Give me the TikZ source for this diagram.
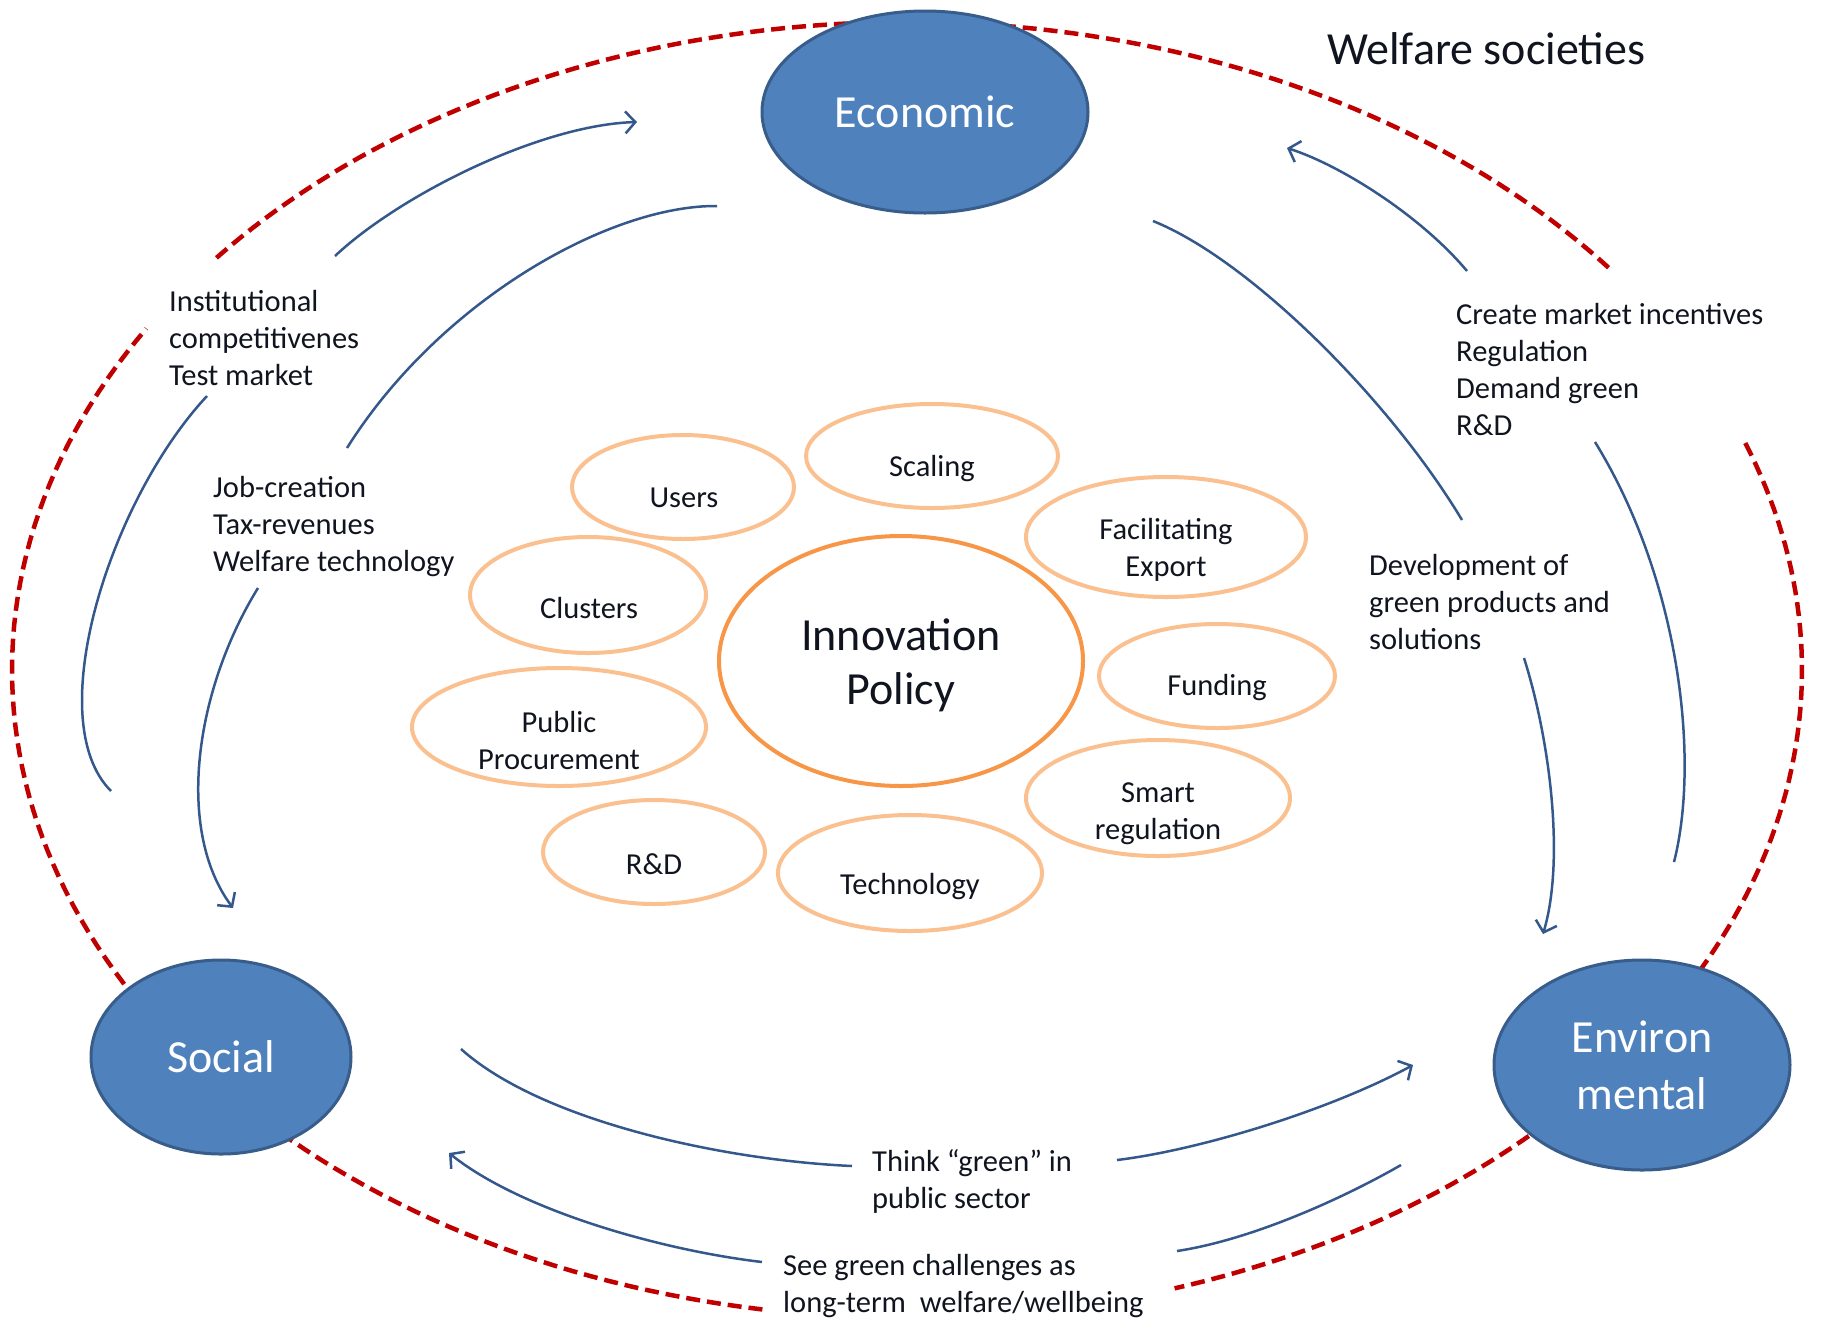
\documentclass[tikz,border=0pt]{standalone}
\usepackage{fontspec}
\setmainfont{Carlito}
\usetikzlibrary{shapes.geometric,arrows.meta}
\definecolor{bluefill}{HTML}{4F81BD}
\definecolor{blueedge}{HTML}{385D8A}
\definecolor{arrowcol}{HTML}{34578C}
\definecolor{redcol}{HTML}{C00000}
\definecolor{orangecol}{HTML}{F79646}
\definecolor{lightorange}{HTML}{FAC090}
\definecolor{textcol}{HTML}{10141F}
\begin{document}
\begin{tikzpicture}[x=1pt,y=-1pt,
 bigcirc/.style={ellipse, fill=bluefill, draw=blueedge, line width=3pt, inner sep=0pt, text=white, font=\fontsize{46}{57}\selectfont, align=center},
 smallell/.style={ellipse, draw=lightorange, line width=4pt, inner sep=0pt},
 celltext/.style={text=textcol, font=\fontsize{30.5}{37}\selectfont, align=center, inner sep=0pt},
 lbl/.style={text=textcol, font=\fontsize{30.5}{37}\selectfont, align=left, anchor=west, inner sep=0pt},
 conn/.style={draw=arrowcol, line width=2.5pt},
 arr/.style={conn, -{Straight Barb[length=10pt,width=22pt]}},
 reddash/.style={draw=redcol, line width=4.5pt, dash pattern=on 14pt off 7pt}]
\useasboundingbox (0,0) rectangle (1825,1326);

% red dashed outer boundary
\draw[reddash] plot[domain=-140.5:-38.1, samples=90, variable=\t] ({907+895*cos(\t)},{670+648*sin(\t)});
\draw[reddash] plot[domain=99.3:211.8, samples=90, variable=\t] ({907+895*cos(\t)},{670+648*sin(\t)});
\draw[reddash] plot[domain=-20.5:72.6, samples=90, variable=\t] ({907+895*cos(\t)},{670+648*sin(\t)});

% main circles
\node[bigcirc, minimum width=326pt, minimum height=202pt] (econ) at (925,112) {Economic};
\node[bigcirc, minimum width=260pt, minimum height=194pt] (social) at (221,1057) {Social};
\node[bigcirc, minimum width=296pt, minimum height=210pt] (env) at (1642,1065) {Environ\\mental};

% innovation policy
\node[ellipse, draw=orangecol, line width=4pt, minimum width=364pt, minimum height=250pt, inner sep=0pt] (innov) at (901,661) {};
\node[text=textcol, font=\fontsize{46}{54}\selectfont, align=center, inner sep=0pt] (innovt) at (901,665) {Innovation\\Policy};

% small ellipses
\node[smallell, minimum width=222pt, minimum height=104pt] (users) at (683,487) {};
\node[smallell, minimum width=252pt, minimum height=104pt] (scaling) at (932,456) {};
\node[smallell, minimum width=280pt, minimum height=120pt] (export) at (1166,537) {};
\node[smallell, minimum width=236pt, minimum height=116pt] (clusters) at (588,595) {};
\node[smallell, minimum width=236pt, minimum height=104pt] (funding) at (1217,676) {};
\node[smallell, minimum width=294pt, minimum height=118pt] (procure) at (559,727) {};
\node[smallell, minimum width=264pt, minimum height=116pt] (smart) at (1158,798) {};
\node[smallell, minimum width=222pt, minimum height=104pt] (rd) at (654,852) {};
\node[smallell, minimum width=264pt, minimum height=116pt] (tech) at (910,873) {};

\node[celltext] (userst) at (684,498) {Users};
\node[celltext] (scalingt) at (932,469) {Scaling};
\node[celltext] (exportt) at (1166,550) {Facilitating\\Export};
\node[celltext] (clusterst) at (589,608) {Clusters};
\node[celltext] (fundingt) at (1217,688) {Funding};
\node[celltext] (procuret) at (559,741) {Public\\Procurement};
\node[celltext] (smartt) at (1158,814) {Smart\\regulation};
\node[celltext] (rdt) at (654,864) {R\&D};
\node[celltext] (techt) at (910,887) {Technology};

% labels
\node[text=textcol, font=\fontsize{46}{54}\selectfont, anchor=west, inner sep=0pt] (title) at (1327,49) {Welfare societies};
\node[lbl] (lblA) at (169,338) {Institutional\\competitivenes\\Test market};
\node[lbl] (lblB) at (213,527) {Job-creation\\Tax-revenues\\Welfare technology};
\node[lbl] (lblC) at (1456,370) {Create market incentives\\Regulation\\Demand green\\R\&D};
\node[lbl] (lblD) at (1369,602) {Development of\\green products and\\solutions};
\node[lbl] (lblE) at (872,1181) {Think “green” in\\public sector};
\node[lbl] (lblF) at (783,1286) {See green challenges as\\long-term\ \ welfare/wellbeing};

% connector end points
\coordinate (a1s) at (335,256);  \coordinate (a1e) at (637,122);
\coordinate (a2s) at (207,396);  \coordinate (a2e) at (111,791);
\coordinate (b1s) at (717,206);  \coordinate (b1e) at (347,448);
\coordinate (b2s) at (258,588);  \coordinate (b2e) at (233,908);
\coordinate (c1s) at (1467,271); \coordinate (c1e) at (1287,148);
\coordinate (c2s) at (1674,862); \coordinate (c2e) at (1595,442);
\coordinate (d1s) at (1153,221); \coordinate (d1e) at (1462,520);
\coordinate (d2s) at (1524,658); \coordinate (d2e) at (1543,934);
\coordinate (e1s) at (461,1049); \coordinate (e1e) at (852,1166);
\coordinate (e2s) at (1117,1160); \coordinate (e2e) at (1413,1065);
\coordinate (f1s) at (1401,1165); \coordinate (f1e) at (1177,1251);
\coordinate (f2s) at (762,1262); \coordinate (f2e) at (449,1153);

% connectors
\draw[arr] (a1s) .. controls (400,195) and (540,125) .. (a1e);
\draw[conn] (a2s) .. controls (110,500) and (40,720) .. (a2e);
\draw[conn] (b1s) .. controls (610,205) and (440,300) .. (b1e);
\draw[arr] (b2s) .. controls (195,690) and (175,830) .. (b2e);
\draw[arr] (c1s) .. controls (1420,215) and (1340,165) .. (c1e);
\draw[conn] (c2s) .. controls (1700,760) and (1680,580) .. (c2e);
\draw[conn] (d1s) .. controls (1250,260) and (1390,400) .. (d1e);
\draw[arr] (d2s) .. controls (1550,740) and (1565,860) .. (d2e);
\draw[conn] (e1s) .. controls (540,1120) and (720,1160) .. (e1e);
\draw[arr] (e2s) .. controls (1200,1150) and (1330,1110) .. (e2e);
\draw[conn] (f1s) .. controls (1340,1200) and (1250,1240) .. (f1e);
\draw[arr] (f2s) .. controls (660,1250) and (520,1210) .. (f2e);
\end{tikzpicture}
\end{document}
